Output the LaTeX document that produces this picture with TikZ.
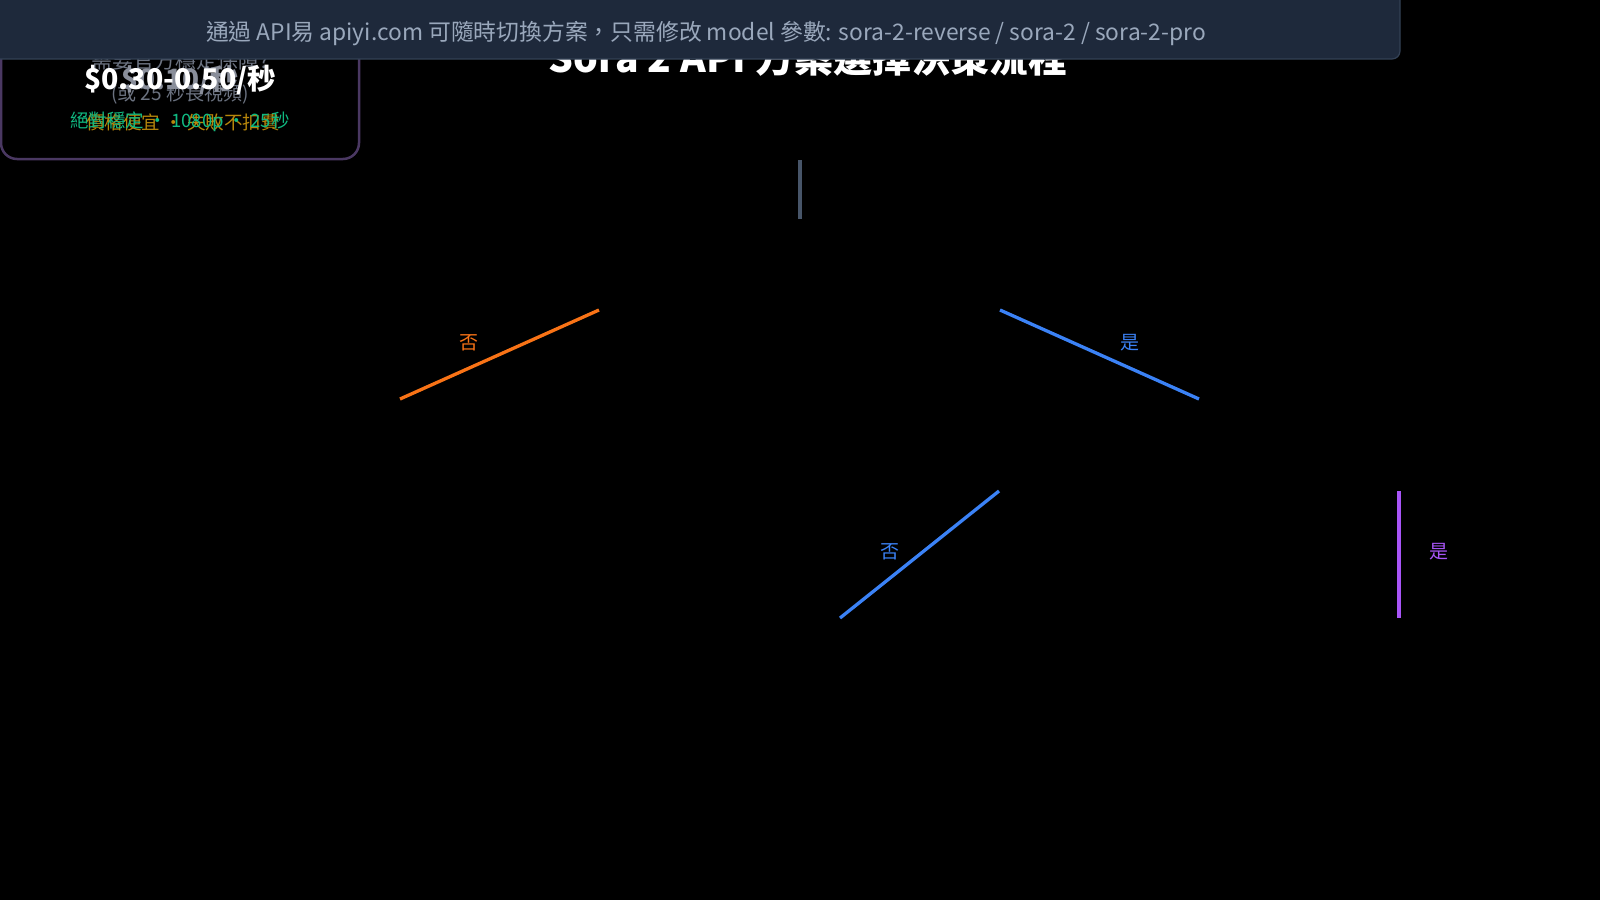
\documentclass[tikz,border=0pt]{standalone}
\usepackage{fontspec}
\setmainfont{Noto Sans CJK TC}
\definecolor{bannerbg}{HTML}{1E293B}
\definecolor{bannerln}{HTML}{334155}
\definecolor{bannertx}{HTML}{9AA8BC}
\definecolor{boxln}{HTML}{4A3862}
\definecolor{grayln}{HTML}{475569}
\definecolor{orangeln}{HTML}{F97316}
\definecolor{blueln}{HTML}{3B82F6}
\definecolor{purpleln}{HTML}{A855F7}
\definecolor{greentx}{HTML}{10B981}
\definecolor{ambertx}{HTML}{B7860B}
\definecolor{greytx}{HTML}{6B7280}
\tikzset{
  conn/.style={line width=3.3pt},
  lbl/.style={font=\fontsize{19}{21}\selectfont, inner sep=0pt},
}
\begin{document}
\begin{tikzpicture}[x=1pt,y=-1pt]
\fill[black] (0,0) rectangle (1600,900);
\useasboundingbox (0,0) rectangle (1600,900);
% title (partly hidden)
\node[text=white, font=\fontsize{39}{42}\selectfont\bfseries, inner sep=0pt] (title) at (808,57) {Sora 2 API 方案選擇決策流程};
% top-left box
\draw[boxln, line width=2.5pt, rounded corners=16pt, fill=black] (1,-20) rectangle (359,159);
\node[text=greytx, font=\fontsize{21}{23}\selectfont, inner sep=0pt] (q1) at (180,60) {需要官方穩定保障?};
\node[text=greytx, font=\fontsize{19}{21}\selectfont, inner sep=0pt] (q2) at (180,94) {(或 25 秒長視頻)};
\node[text=greytx!80, font=\fontsize{28}{30}\selectfont\bfseries, inner sep=0pt] (p2) at (180,80) {\$0.10/秒};
\node[text=white, font=\fontsize{28.5}{30}\selectfont\bfseries, inner sep=0pt] (p1) at (180,80) {\$0.30-0.50/秒};
\node[text=ambertx, font=\fontsize{18.5}{20}\selectfont, inner sep=0pt] (f2) at (183,122) {價格便宜 · 失敗不扣費};
\node[text=greentx, font=\fontsize{18.5}{20}\selectfont, inner sep=0pt] (f1) at (180,122) {絕對穩定 · 1080p · 25秒};
% banner
\draw[bannerln, line width=1.2pt, fill=bannerbg, rounded corners=8pt] (-10,-10) rectangle (1400,59);
\node[text=bannertx, font=\fontsize{22.8}{24}\selectfont, inner sep=0pt] (banner) at (706,34) {通過 API易 apiyi.com 可隨時切換方案，只需修改 model 參數: sora-2-reverse / sora-2 / sora-2-pro};
% connectors
\coordinate (g1) at (800,160); \coordinate (g2) at (800,219);
\draw[grayln, line width=3.3pt] (g1) -- (g2);
\coordinate (o1) at (599,310); \coordinate (o2) at (400,399);
\draw[orangeln, conn] (o1) -- (o2);
\node[lbl, text=orangeln] (no1) at (469,343) {否};
\coordinate (b1) at (1000,310); \coordinate (b2) at (1199,399);
\draw[blueln, conn] (b1) -- (b2);
\node[lbl, text=blueln] (yes1) at (1130,343) {是};
\coordinate (c1) at (999,491); \coordinate (c2) at (840,618);
\draw[blueln, conn] (c1) -- (c2);
\node[lbl, text=blueln] (no2) at (890,552) {否};
\coordinate (d1) at (1399,491); \coordinate (d2) at (1399,618);
\draw[purpleln, conn] (d1) -- (d2);
\node[lbl, text=purpleln] (yes2) at (1439,552) {是};
\end{tikzpicture}
\end{document}
